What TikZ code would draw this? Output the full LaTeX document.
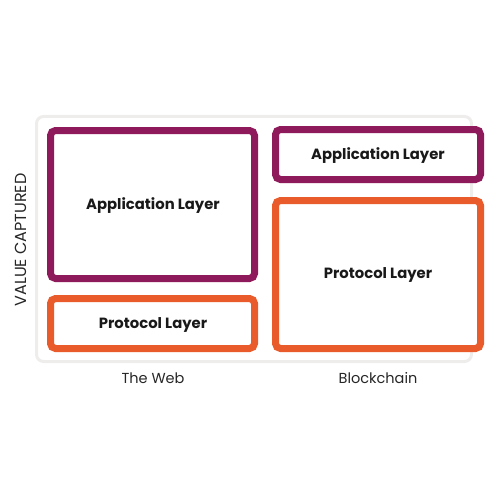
\documentclass[tikz,border=0pt]{standalone}
\usepackage{fontspec}
\setmainfont{Poppins}
\definecolor{appc}{HTML}{8E1A5B}
\definecolor{protc}{HTML}{E95B2B}
\definecolor{bgc}{HTML}{EFECEC}
\begin{document}
\begin{tikzpicture}[x=1pt,y=-1pt,
  layer/.style={line width=7pt,rounded corners=5pt,fill=white},
  applayer/.style={layer,draw=appc},
  protlayer/.style={layer,draw=protc},
  lbl/.style={font=\fontsize{14.8}{16}\selectfont\bfseries,text=black!90},
  axis/.style={font=\fontsize{14.5}{16}\selectfont,text=black!85}]
\useasboundingbox (0,0) rectangle (500,500);
\draw[bgc,line width=3pt,rounded corners=7pt] (36.5,116.5) rectangle (471.5,361.5);
\draw[applayer] (50.5,130.5) rectangle (254.5,278.5);
\draw[protlayer] (50.5,298.5) rectangle (254.5,348.5);
\draw[applayer] (275.5,129.5) rectangle (480.5,179.5);
\draw[protlayer] (275.5,200.5) rectangle (480.5,348.5);
\node[lbl] (wa) at (153,205.5) {Application Layer};
\node[lbl] (wp) at (153,324.5) {Protocol Layer};
\node[lbl] (ba) at (378,155.5) {Application Layer};
\node[lbl] (bp) at (378,275) {Protocol Layer};
\node[axis] (web) at (153,378) {The Web};
\node[axis] (bc) at (378,378) {Blockchain};
\node[axis,font=\fontsize{16}{18}\selectfont,rotate=90] (val) at (21,240) {VALUE CAPTURED};
\end{tikzpicture}
\end{document}
